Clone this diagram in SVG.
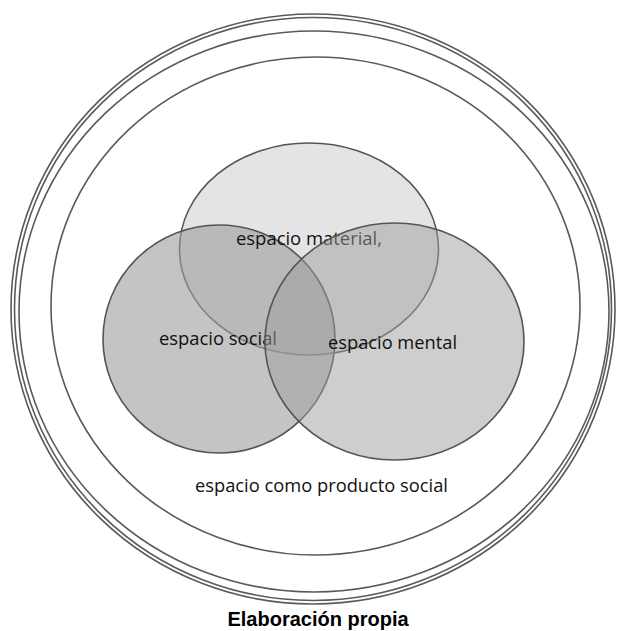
<svg xmlns="http://www.w3.org/2000/svg" width="621" height="631" viewBox="0 0 621 631">
  <style>
    .ring { fill: none; stroke: #5a5a5a; stroke-width: 1.6; }
    .set { stroke: #555555; stroke-width: 1.6; }
    .lbl { font-family: "Open Sans", Lato, "Liberation Sans", sans-serif; font-size: 19px; fill: #111111; }
    .cap { font-family: "Liberation Sans", Arial, sans-serif; font-size: 20px; font-weight: bold; fill: #000000; }
  </style>
  <rect x="0" y="0" width="621" height="631" fill="#ffffff"/>

  <!-- concentric frame: double outer ring, middle ring, inner ring -->
  <g id="frame">
    <ellipse cx="313" cy="309" rx="302" ry="295" fill="#f8f8f8" class="ring"/>
    <ellipse cx="313" cy="309" rx="298.5" ry="291.5" class="ring"/>
    <ellipse cx="314" cy="311.5" rx="295" ry="280.5" class="ring"/>
    <ellipse cx="315.5" cy="306" rx="264.5" ry="249" class="ring"/>
  </g>

  <g id="material">
    <ellipse cx="309" cy="249" rx="129.5" ry="106" fill="#e4e4e4" class="set"/>
  </g>

  <g id="social">
    <ellipse cx="219" cy="339" rx="116" ry="114" fill="#9c9c9c" fill-opacity="0.6" class="set"/>
  </g>

  <text class="lbl" x="236" y="245" textLength="146" lengthAdjust="spacingAndGlyphs">espacio material,</text>
  <text class="lbl" x="159" y="345" textLength="118" lengthAdjust="spacingAndGlyphs">espacio social</text>

  <g id="mental">
    <ellipse cx="394.5" cy="341.5" rx="129.5" ry="118.5" fill="#9e9e9e" fill-opacity="0.5" class="set"/>
    <text class="lbl" x="328" y="349" textLength="129" lengthAdjust="spacingAndGlyphs">espacio mental</text>
  </g>

  <g id="producto">
    <text class="lbl" x="195" y="492" textLength="253" lengthAdjust="spacingAndGlyphs">espacio como producto social</text>
  </g>

  <text class="cap" x="318" y="626" text-anchor="middle">Elaboración propia</text>
</svg>
